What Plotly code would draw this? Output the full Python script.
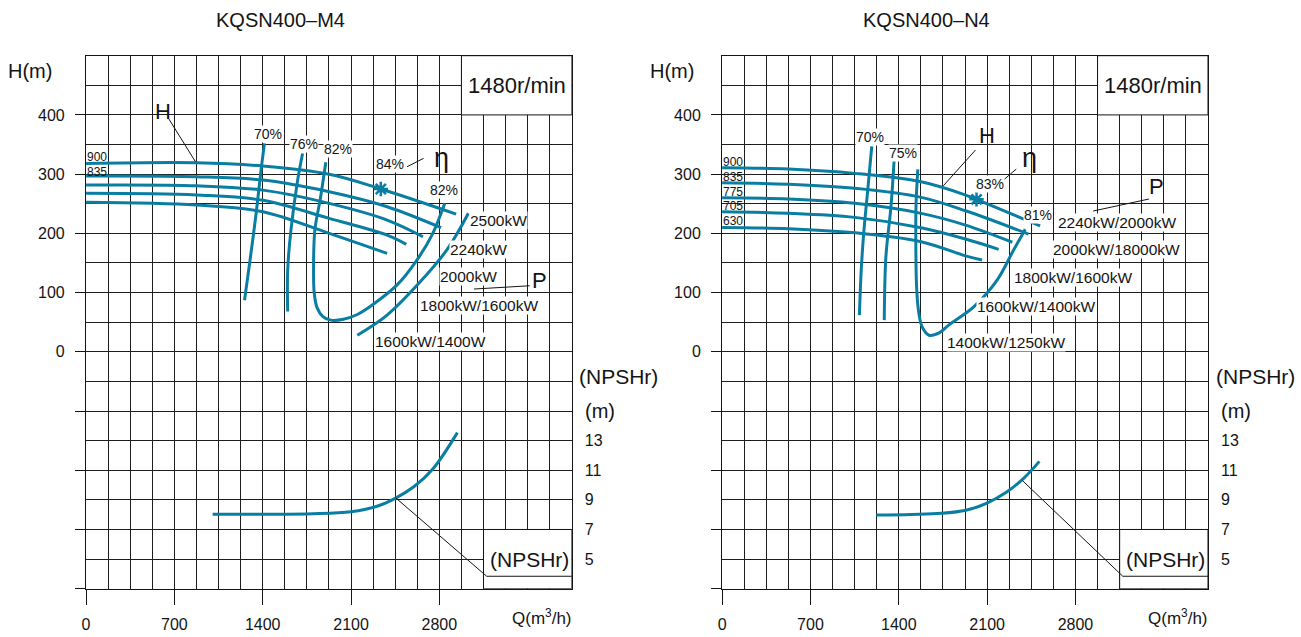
import plotly.graph_objects as go

# ---------------- styling ----------------
TEAL = "#0a7ea2"
INK = "#141414"
GRID = "#1e1e1e"
FONT = "Liberation Sans, Arial, sans-serif"
FIG_W, FIG_H = 1301, 637

# ---------------- axis tick labels ----------------
q_ticks = [0, 700, 1400, 2100, 2800]
h_ticks = [-400, -300, -200, -100, 0, 100, 200, 300, 400]
h_tick_text = ["", "", "", "", "0", "100", "200", "300", "400"]
npsh_ticks = [5, 7, 9, 11, 13]
diam_labels = ["900", "835", "775", "705", "630"]

# ---------------- KQSN400-M4 : head curves (Q m3/h, H m) ----------------
m4_900_q = [0, 875, 1401, 1927, 2336, 2933]
m4_900_h = [318, 319.3, 313.7, 299.7, 275, 232.6]
m4_835_q = [0, 875, 1401, 1927, 2386, 2814]
m4_835_h = [296.8, 295.6, 290, 270.3, 245, 209.5]
m4_775_q = [0, 875, 1401, 1927, 2386, 2670]
m4_775_h = [281.6, 280.4, 273, 250.7, 222.5, 194.3]
m4_705_q = [0, 875, 1401, 1927, 2386, 2538]
m4_705_h = [267.6, 264.7, 256, 225.3, 197, 181.4]
m4_630_q = [0, 875, 1401, 1927, 2386]
m4_630_h = [252.4, 247.8, 236.5, 200, 166.2]

# efficiency contours
m4_e70_q = [1256, 1296, 1348, 1387, 1414]
m4_e70_h = [87, 149, 234, 307, 352]
m4_e76_q = [1598, 1598, 1624, 1677, 1716]
m4_e76_h = [68, 138, 206, 290, 335]
m4_e82_q = [1900, 1858, 1813, 1803, 1808, 1830, 1875, 1939, 2040, 2150, 2268, 2465, 2622, 2741, 2843]
m4_e82_h = [320, 260, 205, 140, 100, 75, 60, 53.5, 55, 63, 79, 113, 155, 197, 251]
# power limit curve
m4_p_q = [2150, 2386, 2639, 2859, 3030]
m4_p_h = [28, 62, 116, 172, 234]
# best efficiency point
m4_bep_q = [2336]
m4_bep_h = [275]
# NPSHr
m4_npsh_q = [1003, 1400, 1800, 2100, 2300, 2450, 2600, 2750, 2943]
m4_npsh_v = [8.03, 8.03, 8.06, 8.2, 8.55, 9.1, 9.9, 11.1, 13.54]

# ---------------- KQSN400-N4 ----------------
n4_900_q = [0, 526, 1052, 1577, 1929, 2016, 2520]
n4_900_h = [310.8, 308.6, 301.3, 287, 264.7, 257.4, 212.8]
n4_835_q = [0, 526, 1052, 1577, 1929, 2428]
n4_835_h = [285.5, 283, 276, 260.8, 238.2, 198.8]
n4_775_q = [0, 526, 1052, 1577, 1929, 2300]
n4_775_h = [260.1, 258, 250.7, 233.8, 214, 185]
n4_705_q = [0, 526, 1052, 1577, 1929, 2191]
n4_705_h = [236.5, 234, 227, 209.5, 190.4, 173]
n4_630_q = [0, 526, 1052, 1577, 1929, 2060]
n4_630_h = [210.1, 208, 201, 185.8, 162, 155]

n4_e70_q = [1088, 1101, 1122, 1154, 1186]
n4_e70_h = [62, 132, 200, 273, 347]
n4_e75_q = [1285, 1298, 1338, 1364]
n4_e75_h = [53.5, 160.5, 245, 327]
n4_e81_q = [1551, 1537, 1535, 1541, 1556, 1585, 1640, 1720, 1800, 1994, 2179, 2310, 2376, 2402]
n4_e81_h = [308, 250, 189, 110, 70, 42, 28, 32, 46, 76, 121, 172, 197, 207]
n4_bep_q = [2016]
n4_bep_h = [257.4]
n4_npsh_q = [1222, 1500, 1736, 1932, 2095, 2258, 2389, 2514]
n4_npsh_v = [7.98, 8.02, 8.09, 8.3, 8.77, 9.55, 10.45, 11.6]


def px(x, y):
    """Pixel position in the page -> paper coordinates."""
    return x / FIG_W, 1 - y / FIG_H


fig = go.Figure()


def curve(q, h, xa, ya):
    fig.add_trace(go.Scatter(
        x=q, y=h, xaxis=xa, yaxis=ya, mode="lines",
        line=dict(color=TEAL, width=3, shape="spline", smoothing=1.0),
        hoverinfo="skip", showlegend=False))


def bep(q, h, xa, ya):
    fig.add_trace(go.Scatter(
        x=q, y=h, xaxis=xa, yaxis=ya, mode="markers",
        marker=dict(symbol="asterisk-open", size=12, color=TEAL,
                    line=dict(color=TEAL, width=2.5)),
        hoverinfo="skip", showlegend=False))


# left chart traces
for q, h in [(m4_900_q, m4_900_h), (m4_835_q, m4_835_h), (m4_775_q, m4_775_h),
             (m4_705_q, m4_705_h), (m4_630_q, m4_630_h),
             (m4_e70_q, m4_e70_h), (m4_e76_q, m4_e76_h), (m4_e82_q, m4_e82_h),
             (m4_p_q, m4_p_h)]:
    curve(q, h, "x", "y")
curve(m4_npsh_q, m4_npsh_v, "x", "y2")
bep(m4_bep_q, m4_bep_h, "x", "y")

# right chart traces
for q, h in [(n4_900_q, n4_900_h), (n4_835_q, n4_835_h), (n4_775_q, n4_775_h),
             (n4_705_q, n4_705_h), (n4_630_q, n4_630_h),
             (n4_e70_q, n4_e70_h), (n4_e75_q, n4_e75_h), (n4_e81_q, n4_e81_h)]:
    curve(q, h, "x2", "y3")
curve(n4_npsh_q, n4_npsh_v, "x2", "y4")
bep(n4_bep_q, n4_bep_h, "x2", "y3")

# ---------------- axes ----------------
x_dom_l = [82.3 / FIG_W, 569.6 / FIG_W]
x_dom_r = [720.3 / FIG_W, 1207.7 / FIG_W]
y_dom = [1 - 588.7 / FIG_H, 1 - 55.7 / FIG_H]
tick_font = dict(family=FONT, size=16, color=INK)


def q_axis(domain, anchor):
    return dict(domain=domain, anchor=anchor, range=[0, 3850],
                tickmode="array", tickvals=q_ticks, ticks="outside", ticklen=15,
                tickcolor=INK, tickwidth=1, ticklabelstandoff=6, tickfont=tick_font,
                showgrid=True, gridcolor=GRID, gridwidth=1,
                minor=dict(tickmode="linear", tick0=0, dtick=175, showgrid=True,
                           gridcolor=GRID, gridwidth=1, ticks=""),
                showline=True, mirror=True, linecolor=INK, linewidth=1.2,
                zeroline=False, fixedrange=True)


def h_axis(anchor):
    return dict(domain=y_dom, anchor=anchor, range=[-400, 500],
                tickmode="array", tickvals=h_ticks, ticktext=h_tick_text,
                ticks="outside", ticklen=10, tickcolor=INK, tickwidth=1,
                ticklabelstandoff=7, tickfont=tick_font,
                showgrid=True, gridcolor=GRID, gridwidth=1,
                minor=dict(tickmode="linear", tick0=0, dtick=50, showgrid=True,
                           gridcolor=GRID, gridwidth=1, ticks=""),
                showline=True, mirror=True, linecolor=INK, linewidth=1.2,
                zeroline=False, fixedrange=True)


def npsh_axis(overlay, anchor):
    return dict(overlaying=overlay, anchor=anchor, side="right", range=[3, 39],
                tickmode="array", tickvals=npsh_ticks, ticks="",
                ticklabelstandoff=12, tickfont=tick_font,
                showgrid=False, showline=False, zeroline=False, fixedrange=True)


fig.update_layout(
    width=FIG_W, height=FIG_H,
    margin=dict(l=0, r=0, t=0, b=0),
    paper_bgcolor="white", plot_bgcolor="white",
    font=dict(family=FONT, color=INK),
    xaxis=q_axis(x_dom_l, "y"),
    yaxis=h_axis("x"),
    yaxis2=npsh_axis("y", "x"),
    xaxis2=q_axis(x_dom_r, "y3"),
    yaxis3=h_axis("x2"),
    yaxis4=npsh_axis("y3", "x2"),
)

# ---------------- boxes and leader lines ----------------
shapes = []
for xr, yr, yr2 in [("x", "y", "y2"), ("x2", "y3", "y4")]:
    # speed box
    shapes.append(dict(type="rect", xref=xr, yref=yr, x0=2975, x1=3850, y0=400, y1=500,
                       fillcolor="white", line=dict(color=INK, width=1), layer="between"))
    # NPSHr label box
    shapes.append(dict(type="rect", xref=xr, yref=yr, x0=3150, x1=3850, y0=-400, y1=-300,
                       fillcolor="white", line=dict(color=INK, width=1), layer="between"))
    shapes.append(dict(type="line", xref=xr, yref=yr2, x0=3175, x1=3850, y0=3.84, y1=3.84,
                       line=dict(color=INK, width=1)))


def leader(xr, yr, x0, y0, x1, y1):
    shapes.append(dict(type="line", xref=xr, yref=yr, x0=x0, y0=y0, x1=x1, y1=y1,
                       line=dict(color=INK, width=1)))


leader("x", "y", 657, 393, 867, 321)        # H
leader("x", "y", 2675, 326.7, 2544, 312.5)  # eta
leader("x", "y", 3516, 111.5, 3074, 106)    # P
leader("x", "y2", 2452, 9.15, 3175, 3.84)   # NPSHr
leader("x2", "y3", 2008, 340.7, 1753, 280.4)
leader("x2", "y3", 2331, 308.6, 2229, 290)
leader("x2", "y3", 3382, 258, 2940, 237.7)
leader("x2", "y4", 2380, 10.3, 3175, 3.84)
fig.update_layout(shapes=shapes)

# ---------------- text ----------------
ann = []


def txt(text, x, y, xr, yr, size, bg=None, **kw):
    d = dict(text=text, x=x, y=y, xref=xr, yref=yr, showarrow=False,
             font=dict(family=FONT, size=size, color=INK),
             xanchor="center", yanchor="middle", borderpad=0)
    if bg:
        d["bgcolor"] = bg
    d.update(kw)
    ann.append(d)


def ptxt(text, x, y, size, **kw):
    a, b = px(x, y)
    txt(text, a, b, "paper", "paper", size, **kw)


# page-level labels
ptxt("KQSN400–M4", 277.5, 20, 20)
ptxt("KQSN400–N4", 925, 20, 20)
for cx in (26, 670):
    ptxt("H(m)", cx, 71, 20)
for cx, cm in ((616.5, 597.5), (1255, 1236)):
    ptxt("(NPSHr)", cx, 376, 21)
    ptxt("(m)", cm, 411, 20)
for cx in (540, 1178):
    ptxt("Q(m<sup>3</sup>/h)", cx, 617, 17)

# left chart labels
txt("1480r/min", 3412, 450, "x", "y", 22)
txt("(NPSHr)", 3515, -351, "x", "y", 21)
txt("H", 613, 405, "x", "y", 22)
txt("η", 2820, 327, "x", "y", 27)
txt("P", 3595, 121, "x", "y", 22)
txt("70%", 1440, 367, "x", "y", 14, bg="white")
txt("76%", 1730, 351, "x", "y", 14, bg="white")
txt("82%", 2000, 342, "x", "y", 14, bg="white")
txt("84%", 2412, 317, "x", "y", 14, bg="white")
txt("82%", 2833, 273, "x", "y", 14, bg="white")
txt("2500kW", 3265, 222.5, "x", "y", 15.5, bg="white")
txt("2240kW", 3111, 173, "x", "y", 15.5, bg="white")
txt("2000kW", 3029, 126.7, "x", "y", 15.5, bg="white")
txt("1800kW/1600kW", 3111, 79, "x", "y", 15.5, bg="white")
txt("1600kW/1400W", 2733, 17, "x", "y", 15.5, bg="white")
for lab, qx, hy in zip(diam_labels, [87, 87, -65, -65, -65], [329, 304, 283, 264.7, 240.5]):
    txt(lab, qx, hy, "x", "y", 12)

# right chart labels
txt("1480r/min", 3412, 450, "x2", "y3", 22)
txt("(NPSHr)", 3515, -351, "x2", "y3", 21)
txt("H", 2100, 366, "x2", "y3", 22)
txt("η", 2436, 327, "x2", "y3", 27)
txt("P", 3440, 279, "x2", "y3", 22)
txt("70%", 1175, 363, "x2", "y3", 14, bg="white")
txt("75%", 1430, 335, "x2", "y3", 14, bg="white")
txt("83%", 2126, 283, "x2", "y3", 14, bg="white")
txt("81%", 2507, 231, "x2", "y3", 14, bg="white")
txt("2240kW/2000kW", 3127, 218, "x2", "y3", 15.5, bg="white")
txt("2000kW/18000kW", 3127, 173.5, "x2", "y3", 15.5, bg="white")
txt("1800kW/1600kW", 2780, 125.7, "x2", "y3", 15.5, bg="white")
txt("1600kW/1400kW", 2489, 76, "x2", "y3", 15.5, bg="white")
txt("1400kW/1250kW", 2252, 16.5, "x2", "y3", 15.5, bg="white")
for lab, hy in zip(diam_labels, [320, 295.6, 270, 246.6, 220.8]):
    txt(lab, 84, hy, "x2", "y3", 12)

fig.update_layout(annotations=ann)
fig.write_html("out.html")
